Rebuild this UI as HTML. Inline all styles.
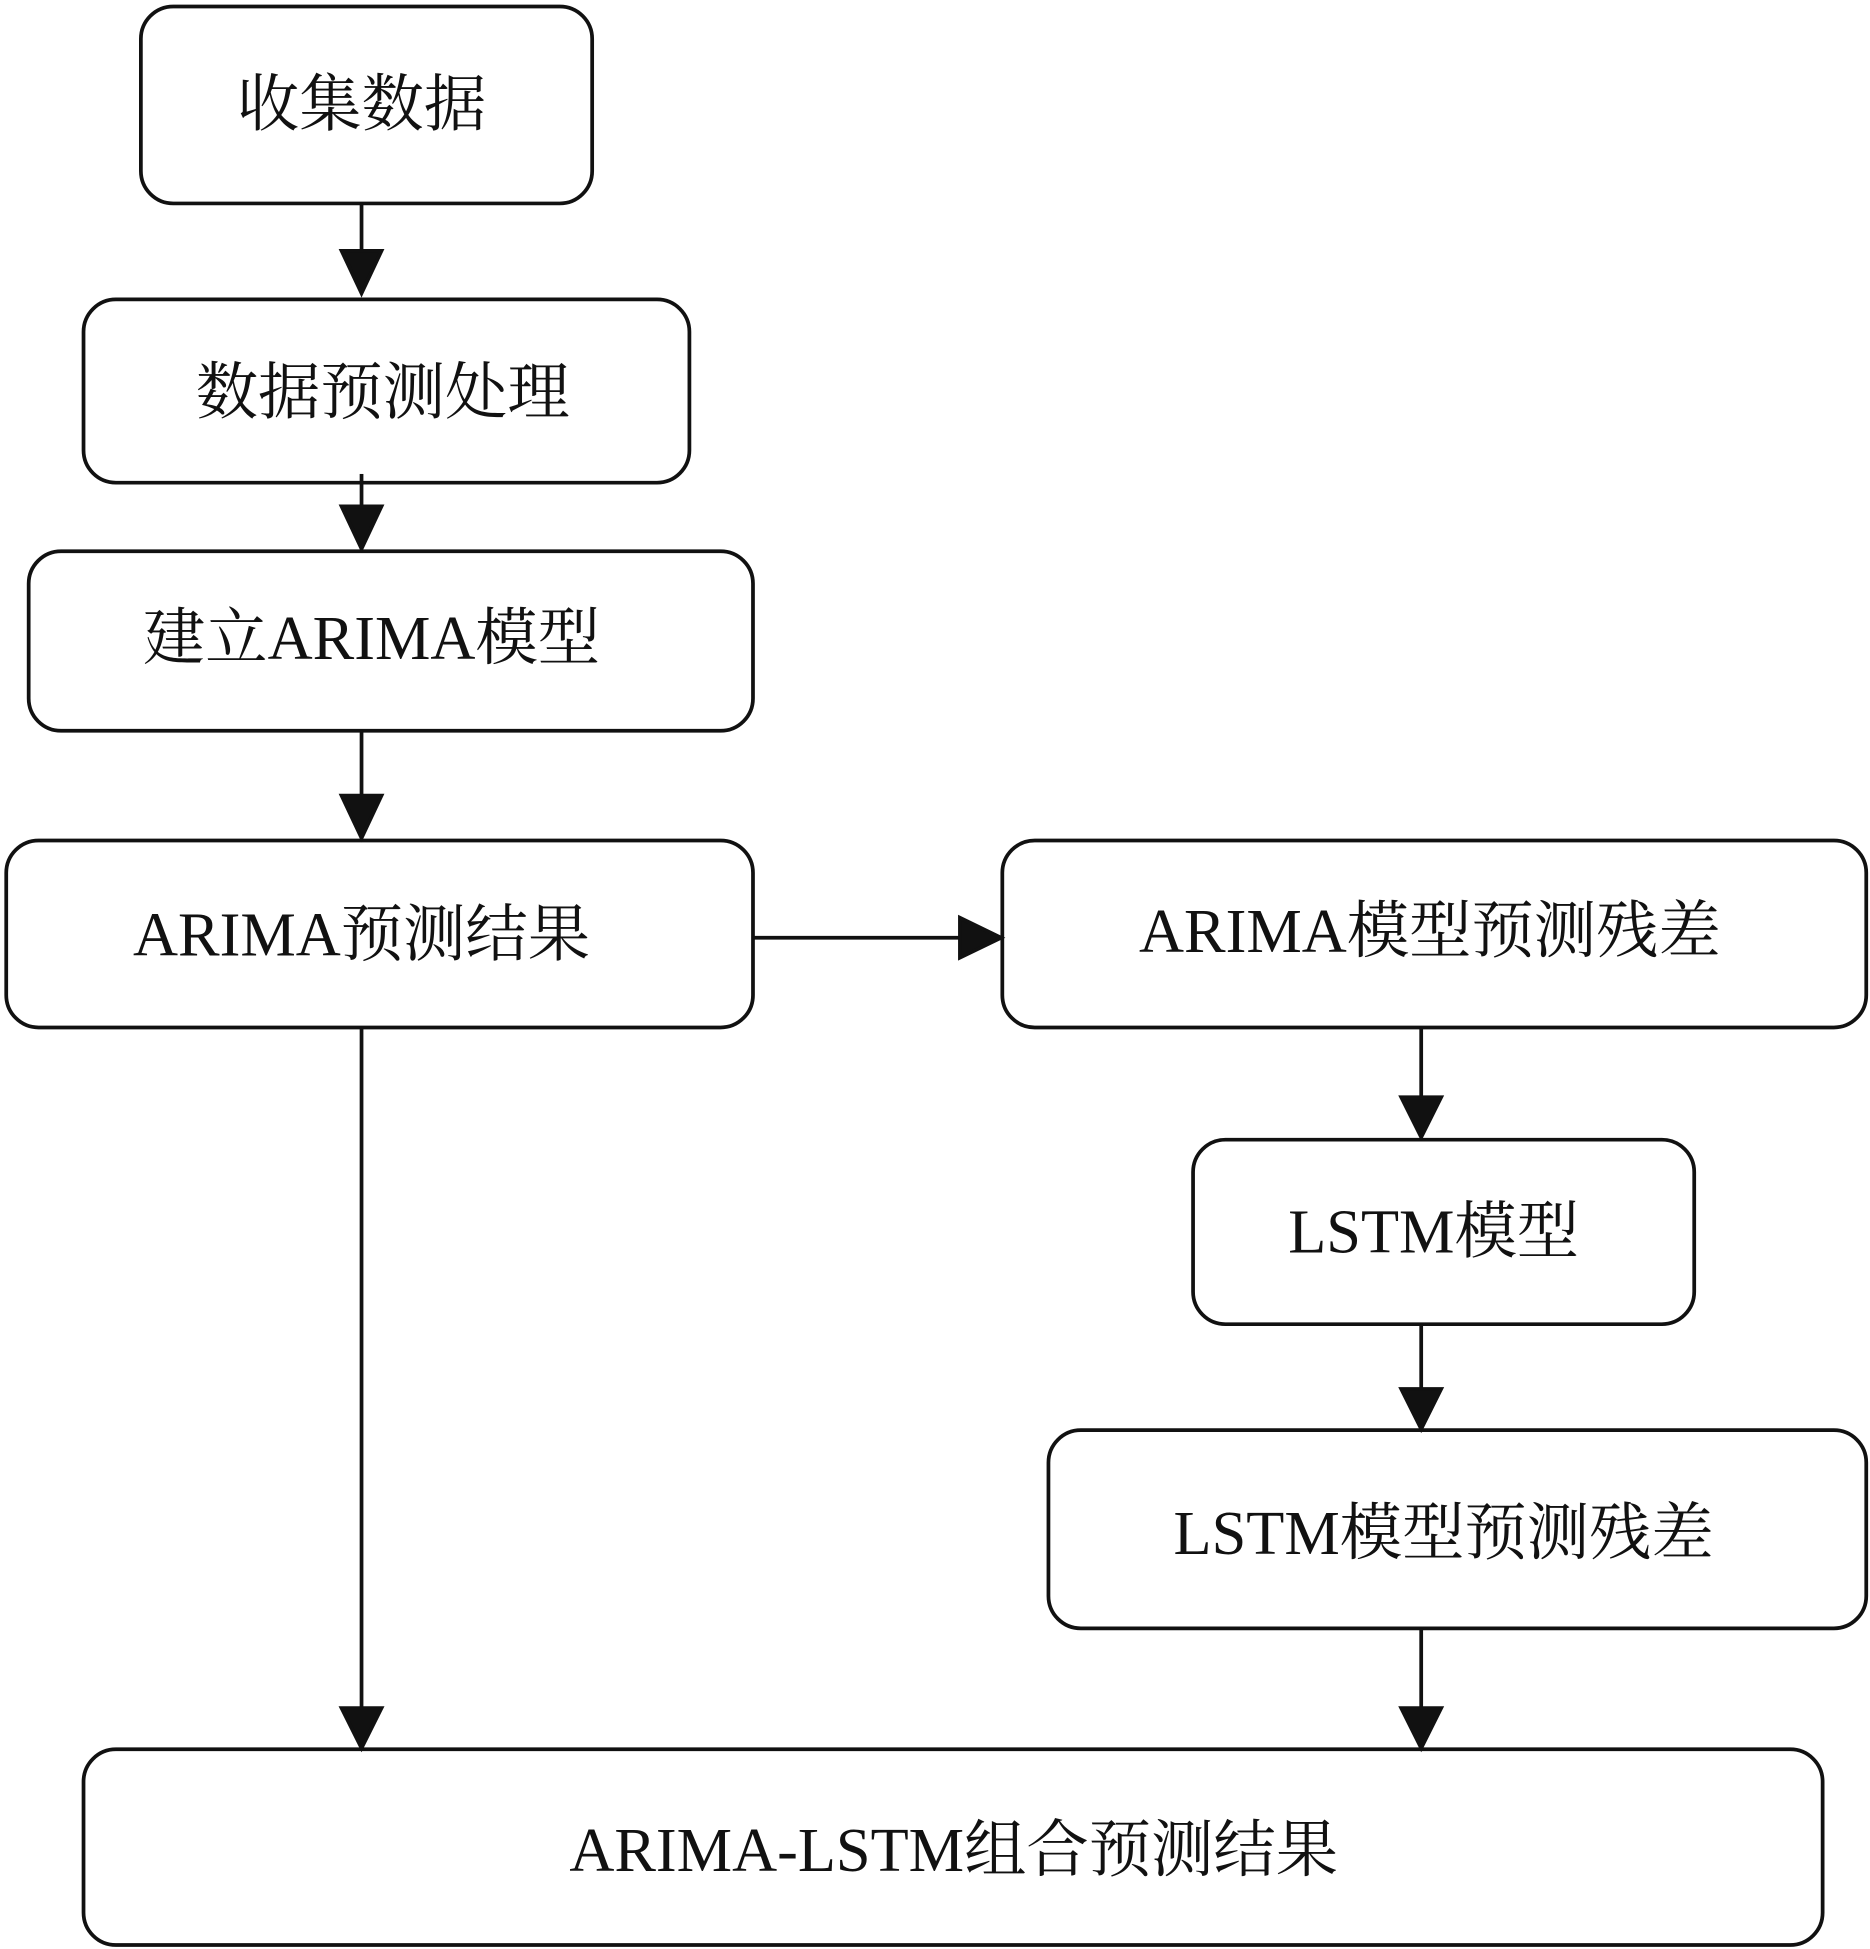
<!DOCTYPE html>
<html><head><meta charset="utf-8"><style>
html,body{margin:0;padding:0;background:#fff;}
svg{display:block;}
text{font-family:"Liberation Serif","Noto Serif CJK SC",serif;font-size:50px;fill:#111;text-anchor:middle;dominant-baseline:central;}
</style></head><body>
<svg width="1870" height="1949" viewBox="0 0 1500 1563" xmlns="http://www.w3.org/2000/svg">
<g fill="none" stroke="#111" stroke-width="3">
<rect x="113" y="5" width="362" height="158" rx="26"/>
<rect x="67" y="240" width="486" height="147" rx="26"/>
<rect x="23" y="442" width="581" height="144" rx="26"/>
<rect x="5" y="674" width="599" height="150" rx="26"/>
<rect x="804" y="674" width="693" height="150" rx="26"/>
<rect x="957" y="914" width="402" height="148" rx="26"/>
<rect x="841" y="1147" width="656" height="159" rx="26"/>
<rect x="67" y="1403" width="1395" height="157" rx="26"/>
</g>
<g stroke="#111" stroke-width="3" fill="#111">
<line x1="290" y1="163" x2="290" y2="205"/><path d="M274,201 L306,201 L290,235 z"/>
<line x1="290" y1="380" x2="290" y2="410"/><path d="M274,406 L306,406 L290,440 z"/>
<line x1="290" y1="586" x2="290" y2="642"/><path d="M274,638 L306,638 L290,672 z"/>
<line x1="604" y1="752" x2="775" y2="752"/><path d="M770,736 L770,768 L803,752 z"/>
<line x1="1140" y1="824" x2="1140" y2="884"/><path d="M1124,880 L1156,880 L1140,912 z"/>
<line x1="1140" y1="1062" x2="1140" y2="1118"/><path d="M1124,1114 L1156,1114 L1140,1146 z"/>
<line x1="1140" y1="1306" x2="1140" y2="1374"/><path d="M1124,1370 L1156,1370 L1140,1402 z"/>
<line x1="290" y1="824" x2="290" y2="1374"/><path d="M274,1370 L306,1370 L290,1402 z"/>
</g>
<text x="290" y="84">收集数据</text>
<text x="307" y="315">数据预测处理</text>
<text x="298" y="512">建立ARIMA模型</text>
<text x="290" y="750">ARIMA预测结果</text>
<text x="1147" y="747">ARIMA模型预测残差</text>
<text x="1150" y="988">LSTM模型</text>
<text x="1158" y="1230">LSTM模型预测残差</text>
<text x="765" y="1484">ARIMA-LSTM组合预测结果</text>
</svg>
</body></html>
